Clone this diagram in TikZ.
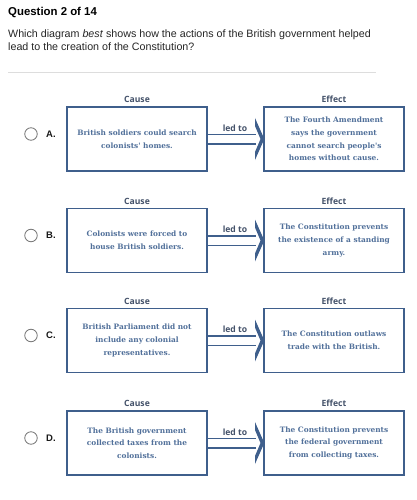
\documentclass[tikz,border=0pt]{standalone}
\usepackage{fontspec}
\setmainfont{Liberation Sans}
\newfontfamily\slabfont{DejaVu Serif}
\newfontfamily\uifont{Open Sans}
\definecolor{boxblue}{HTML}{3F5F8C}
\definecolor{txtblue}{HTML}{51709A}
\definecolor{lblblue}{HTML}{44526A}
\definecolor{radgray}{HTML}{777777}
\definecolor{sepgray}{HTML}{DDDDDD}
\tikzset{
  cbox/.style={draw=boxblue, line width=1.4pt, minimum width=140pt, minimum height=64pt,
    inner sep=2pt, align=center, text=txtblue, font=\slabfont\bfseries\fontsize{7.4}{12.6}\selectfont},
  hlabel/.style={text=lblblue, font=\uifont\bfseries\fontsize{8.6}{10}\selectfont, inner sep=0pt},
  ledlabel/.style={text=lblblue, font=\uifont\bfseries\fontsize{8.6}{10}\selectfont, inner sep=0pt},
  radio/.style={circle, draw=radgray, line width=0.8pt, minimum size=12.5pt, inner sep=0pt},
  letter/.style={font=\bfseries\fontsize{9.5}{10}\selectfont, text=black!90, inner sep=0pt},
  shaft/.style={draw=boxblue, line width=1.4pt},
  ahead/.style={fill=boxblue, draw=none}
}
\newcommand{\optrow}[5]{%
  % #1 id, #2 center y, #3 letter, #4 cause text, #5 effect text
  \node[cbox] (c#1) at (137,#2) {#4};
  \node[cbox] (e#1) at (334,#2) {#5};
  \node[hlabel, above=3.5pt] (cl#1) at (c#1.north) {Cause};
  \node[hlabel, above=3.5pt] (el#1) at (e#1.north) {Effect};
  \node[radio] (r#1) at (31,#2-5) {};
  \node[letter, anchor=west] (l#1) at (46,#2-5) {#3.};
  \coordinate (s1#1) at ([yshift=4.5pt]c#1.east);
  \coordinate (s2#1) at ([yshift=-5pt]c#1.east);
  \coordinate (hx#1) at (256,#2);
  \draw[shaft] (s1#1) -- (s1#1 -| hx#1);
  \draw[shaft] (s2#1) -- (s2#1 -| hx#1);
  \fill[ahead] (255,#2-21) -- (264.3,#2) -- (255,#2+21) -- (255,#2+13) -- (260.5,#2) -- (255,#2-13) -- cycle;
  \node[ledlabel] (led#1) at (235,#2-11) {led to};
}
\begin{document}
\begin{tikzpicture}[x=1pt,y=-1pt]
\useasboundingbox[fill=white] (0,0) rectangle (416,500);
\node[anchor=west, inner sep=0pt, font=\bfseries\fontsize{11.4}{13}\selectfont] (title) at (8,12) {Question 2 of 14};
\node[anchor=north west, inner sep=0pt, align=left, font=\fontsize{10.7}{13}\selectfont, text=black!85] (q) at (8,29.5)
  {Which diagram \textit{best} shows how the actions of the British government helped\\lead to the creation of the Constitution?};
\coordinate (sepL) at (8,72);
\coordinate (sepR) at (376,72);
\draw[sepgray, line width=0.8pt] (sepL) -- (sepR);
\optrow{a}{139}{A}{British soldiers could search\\colonists' homes.}{The Fourth Amendment\\says the government\\cannot search people's\\homes without cause.}
\optrow{b}{240.5}{B}{Colonists were forced to\\house British soldiers.}{The Constitution prevents\\the existence of a standing\\army.}
\optrow{c}{340.5}{C}{British Parliament did not\\include any colonial\\representatives.}{The Constitution outlaws\\trade with the British.}
\optrow{d}{443}{D}{The British government\\collected taxes from the\\colonists.}{The Constitution prevents\\the federal government\\from collecting taxes.}
\end{tikzpicture}
\end{document}
